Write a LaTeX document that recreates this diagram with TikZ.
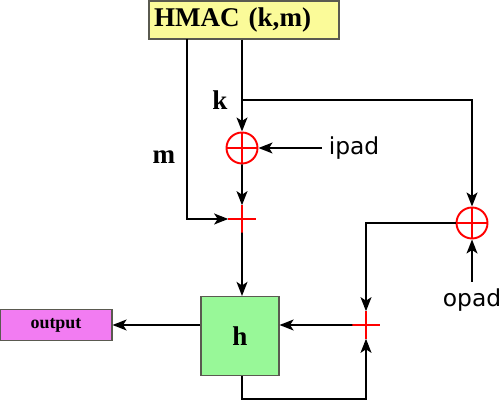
\documentclass[tikz,border=0pt]{standalone}
\usepackage{fontspec}
\setmainfont{Liberation Serif}
\newfontfamily\padfont{DejaVu Sans}
\usepackage{tikz}
\usetikzlibrary{arrows.meta,shapes.misc}

\definecolor{hmacyellow}{RGB}{251,251,153}
\definecolor{hgreen}{RGB}{152,248,152}
\definecolor{outmagenta}{RGB}{242,124,242}
\definecolor{boxgray}{RGB}{90,90,80}

\begin{document}
\begin{tikzpicture}[->,>={Stealth[length=8pt,width=6.2pt,inset=2pt]},
                    x=0.02cm,y=-0.02cm,line width=1.1pt,
                    font=\fontsize{15.4}{18}\selectfont\bfseries]
  \tikzstyle{block}=[draw=boxgray,line width=0.6pt,inner sep=0pt]
  \tikzstyle{xornode}=[circle,draw=red,minimum size=0.62cm,inner sep=0pt,
      path picture={\draw[red,-] (path picture bounding box.north) -- (path picture bounding box.south)
                    (path picture bounding box.west) -- (path picture bounding box.east);}]
  \tikzstyle{plusnode}=[cross out,draw=red,rotate=45,minimum size=0.35cm,inner sep=0pt]
  \tikzstyle{padtext}=[font=\padfont\fontsize{13.3}{16}\selectfont]

  \useasboundingbox (0,0) rectangle (500,401);

  \node[block,fill=hmacyellow,minimum height=0.76cm,text width=3.6cm,
        inner xsep=0.1cm,align=left] (hmac) at (244,20) {HMAC (k,m)};
  \node[xornode] (xor1) at (242,148) {};
  \node[xornode] (xor2) at (472,223) {};
  \node[plusnode] (plus1) at (242,219) {};
  \node[plusnode] (plus2) at (366,325) {};
  \node[block,fill=hgreen,minimum width=1.56cm,minimum height=1.58cm] (h) at (240,336) {h};
  \node[block,fill=outmagenta,minimum width=2.24cm,minimum height=0.62cm,
        font=\fontsize{10.2}{12}\selectfont\bfseries] (output) at (56,325) {output};
  \node (klabel) at (220,100) {k};
  \node (mlabel) at (164,157) {m};
  \node[padtext] (ipad) at (354,148) {ipad};
  \node[padtext] (opad) at (472,300) {opad};
  \coordinate (ksplit) at (242,100);
  \coordinate (mtop) at (187,39);

  % key path
  \draw (hmac.south -| xor1) -- (xor1);
  \draw (ksplit) -| (xor2);
  \draw (ipad) -- (xor1);
  \draw (opad) -- (xor2);
  % message path
  \draw (mtop) |- (plus1);
  \draw (xor1) -- (plus1);
  \draw (plus1) -- (plus1 |- h.north);
  \draw (xor2) -| (plus2);
  \draw (plus2) -- (plus2 -| h.east);
  \draw (h.south -| plus1) -- ++(0,23) -| (plus2);
  \draw (h.west |- output) -- (output);
\end{tikzpicture}
\end{document}
